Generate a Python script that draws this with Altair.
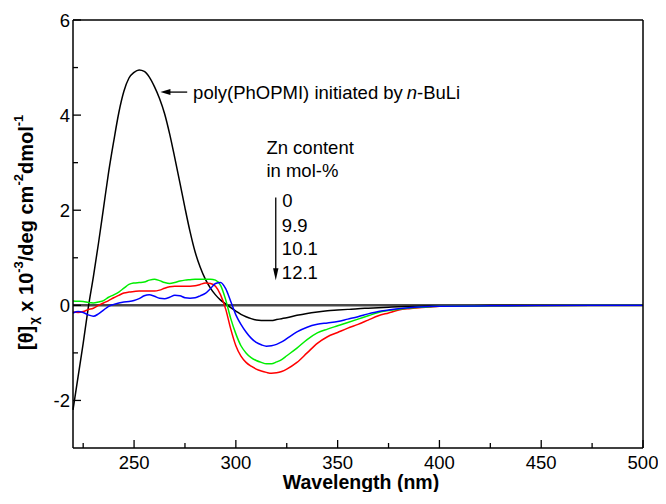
import altair as alt
import pandas as pd

# ---------------- data ----------------
wavelength = [220, 222.5, 225, 227.5, 230, 232.5, 235, 237.5, 240, 242.5, 245, 247.5,
              250, 252.5, 255, 257.5, 260, 262.5, 265, 267.5, 270, 272.5, 275, 277.5,
              280, 282.5, 285, 287.5, 290, 292.5, 295, 297.5, 300, 302.5, 305, 307.5,
              310, 312.5, 315, 317.5, 320, 322.5, 325,
              330, 335, 340, 345, 350, 355, 360, 365, 370, 375, 380, 385, 390, 395, 400,
              425, 450, 475, 500]

black = [-2.2, -1.5, -0.8, -0.05, 0.6, 1.3, 2.05, 2.8, 3.45, 4.05, 4.5, 4.78,
         4.9, 4.95, 4.92, 4.8, 4.6, 4.35, 4.03, 3.6, 3.1, 2.58, 2.05, 1.55,
         1.12, 0.8, 0.55, 0.36, 0.22, 0.11, 0.03, -0.05, -0.12, -0.19, -0.24, -0.28,
         -0.31, -0.32, -0.32, -0.32, -0.3, -0.28, -0.26,
         -0.21, -0.17, -0.14, -0.115, -0.1, -0.085, -0.07, -0.06, -0.05, -0.04, -0.03, -0.025, -0.02, -0.015, -0.01,
         -0.005, 0, 0, 0]

red = [-0.14, -0.15, -0.13, -0.09, -0.06, 0.0, 0.05, 0.1, 0.16, 0.21, 0.26, 0.28,
       0.29, 0.3, 0.3, 0.3, 0.3, 0.32, 0.36, 0.39, 0.4, 0.4, 0.4, 0.4,
       0.41, 0.44, 0.47, 0.46, 0.4, 0.22, -0.08, -0.5, -0.85, -1.07, -1.2, -1.28,
       -1.34, -1.38, -1.41, -1.43, -1.42, -1.39, -1.34,
       -1.2, -1.0, -0.8, -0.66, -0.57, -0.48, -0.4, -0.31, -0.22, -0.16, -0.1, -0.07, -0.05, -0.035, -0.02,
       -0.01, -0.005, 0, 0]

green = [0.09, 0.085, 0.08, 0.06, 0.05, 0.07, 0.1, 0.17, 0.22, 0.28, 0.36, 0.44,
         0.47, 0.48, 0.49, 0.53, 0.55, 0.52, 0.48, 0.46, 0.48, 0.51, 0.53, 0.54,
         0.55, 0.55, 0.55, 0.55, 0.53, 0.42, 0.12, -0.28, -0.6, -0.85, -1.0, -1.1,
         -1.16, -1.2, -1.23, -1.23, -1.19, -1.14, -1.06,
         -0.9, -0.72, -0.58, -0.5, -0.43, -0.36, -0.29, -0.22, -0.15, -0.11, -0.08, -0.055, -0.04, -0.03, -0.02,
         -0.01, -0.005, 0, 0]

blue = [-0.16, -0.13, -0.15, -0.2, -0.23, -0.18, -0.1, -0.02, 0.02, 0.05, 0.07, 0.08,
        0.1, 0.14, 0.2, 0.22, 0.19, 0.15, 0.14, 0.17, 0.21, 0.2, 0.16, 0.15,
        0.16, 0.2, 0.25, 0.35, 0.46, 0.48, 0.35, 0.08, -0.2, -0.4, -0.56, -0.69,
        -0.78, -0.83, -0.86, -0.85, -0.82, -0.77, -0.7,
        -0.56, -0.46, -0.4, -0.37, -0.34, -0.29, -0.24, -0.18, -0.13, -0.1, -0.07, -0.05, -0.035, -0.025, -0.02,
        -0.01, -0.005, 0, 0]

series_names = ["black", "red", "green", "blue"]
series_colors = ["#000000", "#ff0000", "#00ee00", "#0000ff"]

x_major = [250, 300, 350, 400, 450, 500]
x_minor = [225, 275, 325, 375, 425, 475]
y_major = [-2, 0, 2, 4, 6]
y_minor = [-1, 1, 3, 5]
x_tick_labels = ["250", "300", "350", "400", "450", "500"]
y_tick_labels = ["-2", "0", "2", "4", "6"]
x_title = "Wavelength (nm)"

# legend / annotation text (data coordinates: wavelength, value)
legend_texts = ["Zn content", "in mol-%", "0", "9.9", "10.1", "12.1"]
legend_x = [315.0, 315.0, 322.8, 322.6, 322.6, 322.6]
legend_y = [3.18, 2.70, 2.06, 1.54, 1.05, 0.56]

annot_texts = ["poly(PhOPMI) initiated by", "n", "-BuLi"]
annot_x = [279.0, 384.0, 389.0]
annot_y = [4.33, 4.33, 4.33]
annot_style = ["normal", "italic", "normal"]

FONT = "Liberation Sans"
FS = 18.5

# ---------------- chart ----------------
LEFT = 65          # padding; plot area starts at page x = 8 + LEFT
X0 = 8 + LEFT
W, H = 570, 428
xs = alt.Scale(domain=[220, 500], nice=False, zero=False)
ys = alt.Scale(domain=[-3, 6], nice=False, zero=False)

long = []
for name, vals in zip(series_names, [black, red, green, blue]):
    for w, v in zip(wavelength, vals):
        long.append({"wl": w, "v": v, "s": name})
df = pd.DataFrame(long)

layers = []

zero = alt.Chart(pd.DataFrame({"v": [0]})).mark_rule(color="#4a4a4a", strokeWidth=2.5).encode(
    y=alt.Y("v:Q", scale=ys, axis=None))
layers.append(zero)

for name, col in zip(series_names, series_colors):
    layers.append(
        alt.Chart(df).transform_filter(alt.datum.s == name)
        .mark_line(color=col, strokeWidth=1.5, interpolate="monotone")
        .encode(x=alt.X("wl:Q", scale=xs, axis=None), y=alt.Y("v:Q", scale=ys, axis=None))
    )

# frame
frame = pd.DataFrame({"k": [0]})
layers.append(alt.Chart(frame).mark_rule(color="black", strokeWidth=1.5).encode(
    x=alt.value(0), x2=alt.value(W), y=alt.value(0)))
layers.append(alt.Chart(frame).mark_rule(color="black", strokeWidth=1.5).encode(
    x=alt.value(0), x2=alt.value(W), y=alt.value(H)))
layers.append(alt.Chart(frame).mark_rule(color="black", strokeWidth=1.5).encode(
    x=alt.value(0), y=alt.value(0), y2=alt.value(H)))
layers.append(alt.Chart(frame).mark_rule(color="black", strokeWidth=1.5).encode(
    x=alt.value(W), y=alt.value(0), y2=alt.value(H)))

# inward ticks
layers.append(alt.Chart(pd.DataFrame({"t": x_major})).mark_rule(color="black", strokeWidth=1.3).encode(
    x=alt.X("t:Q", scale=xs, axis=None), y=alt.value(H), y2=alt.value(H - 8)))
layers.append(alt.Chart(pd.DataFrame({"t": x_minor})).mark_rule(color="black", strokeWidth=1.3).encode(
    x=alt.X("t:Q", scale=xs, axis=None), y=alt.value(H), y2=alt.value(H - 5)))
layers.append(alt.Chart(pd.DataFrame({"t": y_major})).mark_rule(color="black", strokeWidth=1.3).encode(
    y=alt.Y("t:Q", scale=ys, axis=None), x=alt.value(0), x2=alt.value(8)))
layers.append(alt.Chart(pd.DataFrame({"t": y_minor})).mark_rule(color="black", strokeWidth=1.3).encode(
    y=alt.Y("t:Q", scale=ys, axis=None), x=alt.value(0), x2=alt.value(5)))

# tick labels
layers.append(alt.Chart(pd.DataFrame({"t": x_major, "lab": x_tick_labels})).mark_text(
    font=FONT, fontSize=FS, align="center", baseline="alphabetic", color="black").encode(
    x=alt.X("t:Q", scale=xs, axis=None), y=alt.value(H + 21), text="lab:N"))
layers.append(alt.Chart(pd.DataFrame({"t": y_major, "lab": y_tick_labels})).mark_text(
    font=FONT, fontSize=FS, align="right", baseline="middle", color="black", dy=1).encode(
    y=alt.Y("t:Q", scale=ys, axis=None), x=alt.value(-3), text="lab:N"))

# x title
layers.append(alt.Chart(pd.DataFrame({"t": [x_title]})).mark_text(
    font=FONT, fontSize=19.5, fontWeight="bold", align="center", baseline="alphabetic",
    color="black").encode(text="t:N", x=alt.value(361 - X0), y=alt.value(H + 41)))

# legend text
leg_df = pd.DataFrame({"x": legend_x, "y": legend_y, "t": legend_texts})
layers.append(alt.Chart(leg_df).mark_text(font=FONT, fontSize=FS, align="left", baseline="alphabetic",
                                          color="black").encode(
    x=alt.X("x:Q", scale=xs, axis=None), y=alt.Y("y:Q", scale=ys, axis=None), text="t:N"))

# vertical arrow of the legend
layers.append(alt.Chart(pd.DataFrame({"x": [319.6], "y": [2.27], "y2": [0.70]})).mark_rule(
    color="black", strokeWidth=1.3).encode(
    x=alt.X("x:Q", scale=xs, axis=None), y=alt.Y("y:Q", scale=ys, axis=None), y2="y2:Q"))
layers.append(alt.Chart(pd.DataFrame({"x": [319.6], "y": [0.655]})).mark_point(
    shape="M0,1L-0.45,-1L0.45,-1Z", filled=True, color="black", size=144, opacity=1).encode(
    x=alt.X("x:Q", scale=xs, axis=None), y=alt.Y("y:Q", scale=ys, axis=None)))

# annotation text
for t, x, y, st in zip(annot_texts, annot_x, annot_y, annot_style):
    layers.append(alt.Chart(pd.DataFrame({"x": [x], "y": [y], "t": [t]})).mark_text(
        font=FONT, fontSize=FS, align="left", baseline="alphabetic", color="black", fontStyle=st).encode(
        x=alt.X("x:Q", scale=xs, axis=None), y=alt.Y("y:Q", scale=ys, axis=None), text="t:N"))

# horizontal arrow of the annotation
layers.append(alt.Chart(pd.DataFrame({"x": [266.5], "x2": [276.1], "y": [4.484]})).mark_rule(
    color="black", strokeWidth=1.3).encode(
    x=alt.X("x:Q", scale=xs, axis=None), x2="x2:Q", y=alt.Y("y:Q", scale=ys, axis=None)))
layers.append(alt.Chart(pd.DataFrame({"x": [265.4], "y": [4.484]})).mark_point(
    shape="M-1,0L1,-0.6L1,0.6Z", filled=True, color="black", size=100, opacity=1).encode(
    x=alt.X("x:Q", scale=xs, axis=None), y=alt.Y("y:Q", scale=ys, axis=None)))

# rotated y-axis title built from pieces (sub/superscripts)
BOLD_W = {' ': 278, '[': 333, ']': 333, 'θ': 611, 'χ': 556, 'x': 556, '0': 556, '1': 556,
          '2': 556, '3': 556, '-': 333, '/': 278, 'd': 611, 'e': 556, 'g': 611, 'c': 556,
          'm': 889, 'o': 611, 'l': 278}
ytitle_parts = ["[θ]", "χ", " x 10", "-3", "/deg cm", "-2", "dmol", "-1"]
ytitle_kind = ["n", "sub", "n", "sup", "n", "sup", "n", "sup"]
kind_size = {"n": 20, "sub": 13, "sup": 13}
kind_x = {"n": 33 - X0, "sub": 38 - X0, "sup": 23 - X0}
pos = 350 - 20
for part, kind in zip(ytitle_parts, ytitle_kind):
    size = kind_size[kind]
    lead = len(part) - len(part.lstrip(" "))
    pos -= lead * BOLD_W[' '] * size / 1000
    txt = part.lstrip(" ")
    layers.append(alt.Chart(pd.DataFrame({"t": [txt]})).mark_text(
        font=FONT, fontSize=size, fontWeight="bold", angle=270, align="left",
        baseline="alphabetic", color="black").encode(
        text="t:N", x=alt.value(kind_x[kind]), y=alt.value(pos)))
    pos -= sum(BOLD_W[c] for c in txt) * size / 1000

chart = alt.layer(*layers).properties(
    width=W, height=H,
    padding={"left": LEFT, "top": 12, "right": 650 - LEFT - W, "bottom": 44},
    autosize=alt.AutoSizeParams(type="none"),
    background="white",
).configure_view(strokeWidth=0)

chart.save("out.html", embed_options={"renderer": "svg", "actions": False})
